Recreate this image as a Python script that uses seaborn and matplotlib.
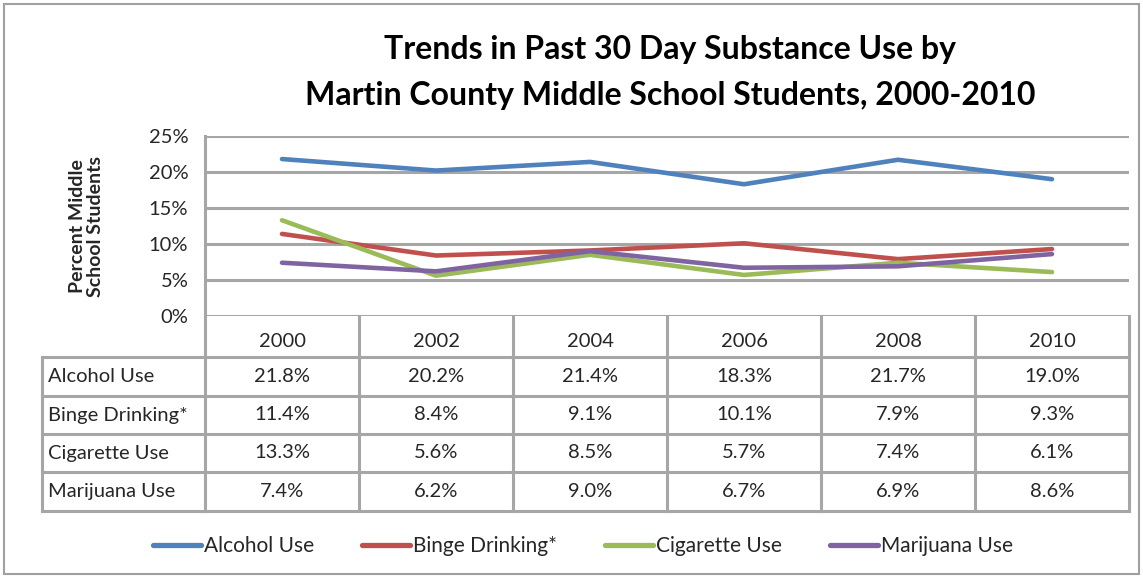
import matplotlib
matplotlib.use("Agg")
import matplotlib.pyplot as plt
from matplotlib.lines import Line2D
from matplotlib.patches import Rectangle
import pandas as pd
import seaborn as sns

years = ["2000", "2002", "2004", "2006", "2008", "2010"]
series_names = ["Alcohol Use", "Binge Drinking*", "Cigarette Use", "Marijuana Use"]
alcohol = [21.8, 20.2, 21.4, 18.3, 21.7, 19.0]
binge = [11.4, 8.4, 9.1, 10.1, 7.9, 9.3]
cigarette = [13.3, 5.6, 8.5, 5.7, 7.4, 6.1]
marijuana = [7.4, 6.2, 9.0, 6.7, 6.9, 8.6]
y_ticks = [0, 5, 10, 15, 20, 25]

colors = ["#4F81BD", "#C0504D", "#9BBB59", "#8064A2"]
grid_c = "#A6A6A6"
FONT = "Lato"

sns.set_theme(style="white")
plt.rcParams["font.family"] = [FONT, "DejaVu Sans"]

W, H = 1143, 578
fig = plt.figure(figsize=(W / 100, H / 100), dpi=100)

# pixel-space canvas for the frame, the title and the data table
bg = fig.add_axes([0, 0, 1, 1], zorder=0)
bg.set_xlim(0, W)
bg.set_ylim(H, 0)
bg.axis("off")
bg.add_patch(Rectangle((4, 4), W - 8, H - 8, fill=False, ec="#A0A0A0", lw=1.5))

bg.text(670, 50, "Trends in Past 30 Day Substance Use by", ha="center", va="center",
        fontsize=23, fontweight="bold", color="black")
bg.text(670, 95, "Martin County Middle School Students, 2000-2010", ha="center",
        va="center", fontsize=23, fontweight="bold", color="black")

# plot area
px_left, px_right, px_top, px_bottom = 205, 1129, 136, 316
ax = fig.add_axes([px_left / W, 1 - px_bottom / H, (px_right - px_left) / W,
                   (px_bottom - px_top) / H], zorder=2)
ax.patch.set_alpha(0)

values = [alcohol, binge, cigarette, marijuana]
df = pd.DataFrame({
    "year": [y for _ in series_names for y in years],
    "pct": [v for vals in values for v in vals],
    "series": [s for s in series_names for _ in years],
})
sns.lineplot(data=df, x="year", y="pct", hue="series", palette=colors,
             linewidth=3.3, legend=False, ax=ax, zorder=3, sort=False)

ax.set_xlim(-0.5, len(years) - 0.5)
ax.set_ylim(0, 25)
ax.set_yticks(y_ticks)
ax.set_yticklabels([f"{t}%" for t in y_ticks], fontsize=14.5)
ax.yaxis.grid(True, color=grid_c, linewidth=2.2)
ax.set_axisbelow(True)
ax.tick_params(axis="y", length=8, width=2.2, color=grid_c, pad=4)
ax.tick_params(axis="x", length=0, pad=12, labelsize=14.5)
ax.set_xlabel("")
ax.set_ylabel("Percent Middle\nSchool Students", fontsize=14, fontweight="bold",
              labelpad=32, linespacing=1.1)
for s in ["top", "right", "bottom"]:
    ax.spines[s].set_visible(False)
ax.spines["left"].set_color(grid_c)
ax.spines["left"].set_linewidth(2.2)

# data table below the plot
col_w = (px_right - px_left) / len(years)
row_lines = [357, 396, 434, 472, 511]
tbl_left = 42
lk = dict(color=grid_c, lw=2.2, solid_capstyle="projecting")
for y in row_lines:
    bg.plot([tbl_left, px_right], [y, y], **lk)
bg.plot([tbl_left, tbl_left], [row_lines[0], row_lines[-1]], **lk)
for i in range(len(years) + 1):
    x = px_left + i * col_w
    bg.plot([x, x], [px_bottom, row_lines[-1]], **lk)

for r, (name, vals) in enumerate(zip(series_names, values)):
    yc = (row_lines[r] + row_lines[r + 1]) / 2
    bg.text(tbl_left + 6, yc, name, ha="left", va="center", fontsize=14.5)
    for i, v in enumerate(vals):
        bg.text(px_left + (i + 0.5) * col_w, yc, f"{v:.1f}%", ha="center",
                va="center", fontsize=14.5)

handles = [Line2D([], [], color=c, lw=3.8) for c in colors]
fig.legend(handles, series_names, loc="center", bbox_to_anchor=(583 / W, 1 - 546 / H),
           ncol=4, frameon=False, fontsize=15, handlelength=2.3, handletextpad=0.15,
           columnspacing=2.3)

fig.savefig("out.png", dpi=100)
